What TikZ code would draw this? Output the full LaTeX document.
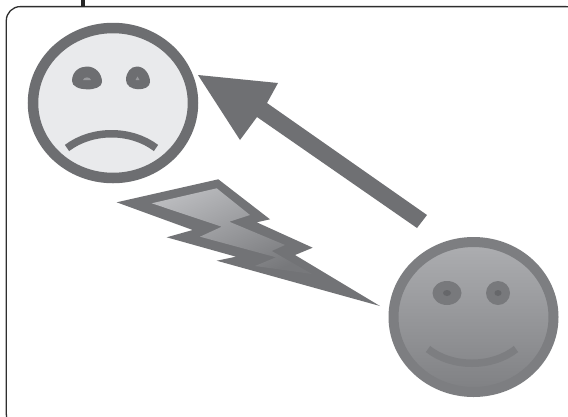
\documentclass[tikz,border=0pt]{standalone}
\definecolor{frameink}{HTML}{2E2E2E}
\definecolor{sadline}{HTML}{6D6E71}
\definecolor{sadfill}{HTML}{E9EAEC}
\definecolor{happyline}{HTML}{7D7E81}
\definecolor{happytop}{HTML}{ADAEB1}
\definecolor{happymid}{HTML}{9B9CA0}
\definecolor{happybot}{HTML}{7F8083}
\definecolor{happyeye}{HTML}{78797C}
\definecolor{happypupil}{HTML}{66676A}
\definecolor{arrowink}{HTML}{6F7073}
\definecolor{boltline}{HTML}{727376}
\definecolor{boltlight}{HTML}{B9BABD}
\definecolor{boltmid}{HTML}{A2A3A6}
\tikzset{
  framebox/.style={draw=frameink,line width=1.3pt,rounded corners=14pt},
  sadface/.style={draw=sadline,line width=10.5pt,fill=sadfill},
  happyface/.style={draw=happyline,line width=10pt,top color=happytop,middle color=happymid,bottom color=happybot},
  sadstroke/.style={draw=sadline,line width=7.5pt},
  happystroke/.style={draw=happyline,line width=7.5pt},
  sadeye/.style={fill=sadline},
  happyeyeshape/.style={fill=happyeye},
  pupil/.style={fill=happypupil},
  glint/.style={fill=sadline!65!sadfill},
  bolt/.style={fill=boltline},
  boltcore/.style={top color=boltlight,middle color=boltmid,bottom color=boltline!90!boltmid,shading angle=25},
  bigarrow/.style={fill=arrowink}
}
\begin{document}
\begin{tikzpicture}[x=1pt,y=-1pt]
\useasboundingbox (0,0) rectangle (568,416);
\clip (0,0) rectangle (568,416);
\fill[white] (0,0) rectangle (568,416);
% frame and the cut-off mark above it
\draw[framebox] (6.3,6.6) rectangle (580,428);
\fill[black!85] (81,0) rectangle (84.6,6.5);
% sad face
\path[sadface] (113,103) ellipse [x radius=80,y radius=75];
\path[sadeye] (72,81) .. controls (72,71) and (80,66.5) .. (87,66.5) .. controls (95,66.5) and (102,73) .. (102,82)
  .. controls (102,92) and (72,92) .. (72,81) -- cycle;
\path[sadeye] (126,80) .. controls (126,72) and (131,66.5) .. (137,66.5) .. controls (145,66.5) and (150,75) .. (150,82)
  .. controls (150,92) and (126,92) .. (126,80) -- cycle;
\path[glint] (83,80) .. controls (84,76.5) and (90,76.5) .. (91,80) -- cycle;
\path[glint] (135.5,80) -- (137.5,76.5) -- (139.5,80) -- cycle;
\draw[sadstroke] (67,148) .. controls (92,129) and (131,129) .. (156,148);
% arrow
\path[bigarrow] (198,75) -- (278,83) -- (267,103) -- (427,215) -- (417,228)
  -- (257,117) -- (240,140) -- cycle;
% lightning
\path[bolt] (116.7,202.3) -- (218.3,179.3) -- (270,219.3) -- (256.7,222.3)
  -- (312.7,247.7) -- (295,255) -- (380,306) -- (216.7,260.7) -- (236,256.7)
  -- (166.7,237.3) -- (192.7,230) -- cycle;
\path[boltcore] (151.7,203.3) -- (216.7,188.3) -- (250,215) -- (229.3,221.7)
  -- (285,245) -- (271.7,251) -- (312,274) -- (255,266) -- (276,257.3)
  -- (200,236.7) -- (221.7,226.7) -- cycle;
% happy face
\path[happyface] (473.5,317) ellipse [x radius=80,y radius=75];
\path[happyeyeshape] (447,293) ellipse [x radius=14.5,y radius=12];
\path[happyeyeshape] (498,293) ellipse [x radius=12,y radius=12];
\path[pupil] (447,293) ellipse [x radius=4,y radius=3];
\path[pupil] (498,293) ellipse [x radius=3.5,y radius=3];
\draw[happystroke] (428,349) .. controls (452,368) and (492,368) .. (516,349);
\end{tikzpicture}
\end{document}
